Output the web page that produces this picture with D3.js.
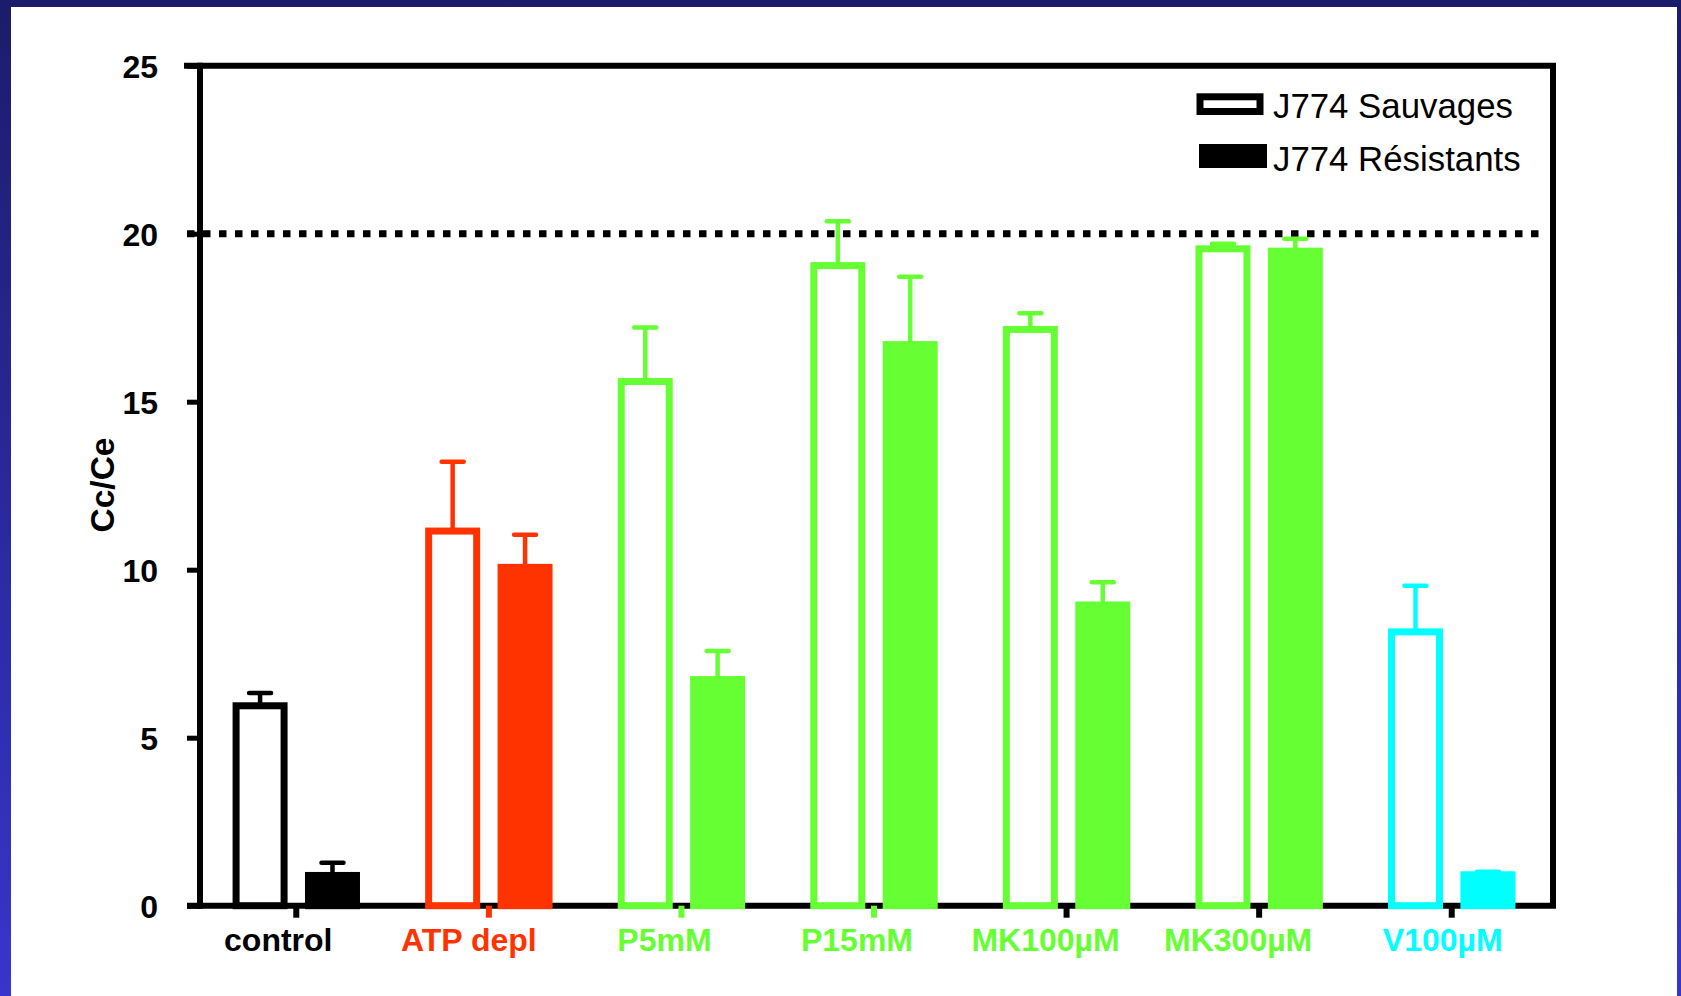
<!DOCTYPE html>
<meta charset="utf-8">
<style>
body { margin: 0; background: #ffffff; }
svg { display: block; }
text { font-family: "Liberation Sans", Arial, Helvetica, sans-serif; }
.lab { font-weight: bold; font-size: 32px; }
.leg { font-size: 34.8px; }
</style>
<body>
<script src="https://cdn.jsdelivr.net/npm/d3@7"></script>
<script>

// data
var categories = ["control", "ATP depl", "P5mM", "P15mM", "MK100µM", "MK300µM", "V100µM"];
var series = ["J774 Sauvages", "J774 Résistants"];
var sauvages = [5.95, 11.15, 15.6, 19.05, 17.15, 19.55, 8.15];
var sauvagesErr = [0.38, 2.06, 1.61, 1.32, 0.48, 0.15, 1.37];
var resistants = [0.9, 10.07, 6.73, 16.7, 8.95, 19.48, 0.92];
var resistantsErr = [0.38, 0.97, 0.85, 2.02, 0.68, 0.37, 0.09];
var yTicks = [0, 5, 10, 15, 20, 25];
var threshold = 20;

// colours per category (bars, labels) and the little tick under each group
var colors = ["#000000", "#ff3300", "#66ff33", "#66ff33", "#66ff33", "#66ff33", "#00ffff"];
var tickColors = ["#000000", "#ff3300", "#66ff33", "#66ff33", "#000000", "#000000", "#000000"];
// labels sit a bit left of the group centre in the original
var labelNudge = [-18, -20, -17, -17, -21, -21, -9];

var W = 1681, H = 996;

var svg = d3.select("body").append("svg")
    .attr("width", W)
    .attr("height", H);

// slide background: blue gradient with white panel
var grad = svg.append("defs").append("linearGradient")
    .attr("id", "bg").attr("x1", 0).attr("y1", 0).attr("x2", 0).attr("y2", 1);
grad.append("stop").attr("offset", "0%").attr("stop-color", "#1c1c6c");
grad.append("stop").attr("offset", "100%").attr("stop-color", "#3636cc");
svg.append("rect").attr("width", W).attr("height", H).attr("fill", "url(#bg)");
svg.append("rect").attr("x", 11).attr("y", 7).attr("width", W - 15).attr("height", H - 7).attr("fill", "#fff");

// scales
var x = d3.scaleBand()
    .domain(categories)
    .range([200, 1548]);
var xSub = d3.scalePoint()
    .domain(series)
    .range([-36.2, 36.2]);
var y = d3.scaleLinear()
    .domain([0, 25])
    .range([905.7, 65.7]);

var xLeft = 200, xRight = 1553;

// frame: top and right lines
svg.append("line")
    .attr("x1", 184).attr("x2", xRight + 3)
    .attr("y1", y(25)).attr("y2", y(25))
    .attr("stroke", "#000").attr("stroke-width", 6);
svg.append("line")
    .attr("x1", xRight).attr("x2", xRight)
    .attr("y1", y(25)).attr("y2", y(0))
    .attr("stroke", "#000").attr("stroke-width", 6);

// y axis
var yAxis = svg.append("g")
    .attr("transform", "translate(" + xLeft + ",0)")
    .call(d3.axisLeft(y).tickValues(yTicks).tickSize(13).tickPadding(29));
yAxis.select(".domain").attr("stroke-width", 6).attr("d", "M0," + (y(0) + 3) + "V" + (y(25) - 3));
yAxis.selectAll(".tick line").attr("stroke-width", 5);
yAxis.selectAll(".tick text")
    .attr("class", "lab")
    .attr("fill", "#000")
    .attr("dy", "0.36em");

// x axis line
svg.append("line")
    .attr("x1", 187).attr("x2", xRight + 3)
    .attr("y1", y(0)).attr("y2", y(0))
    .attr("stroke", "#000").attr("stroke-width", 6);

// small ticks under each group
svg.selectAll(".xtick")
    .data(categories)
  .enter().append("line")
    .attr("class", "xtick")
    .attr("x1", function(d) { return x(d) + x.bandwidth() / 2; })
    .attr("x2", function(d) { return x(d) + x.bandwidth() / 2; })
    .attr("y1", y(0))
    .attr("y2", y(0) + 12)
    .attr("stroke", function(d, i) { return tickColors[i]; })
    .attr("stroke-width", 6);

// dotted threshold line
svg.append("line")
    .attr("x1", 187).attr("x2", 1539)
    .attr("y1", y(threshold)).attr("y2", y(threshold))
    .attr("stroke", "#000")
    .attr("stroke-width", 7)
    .attr("stroke-dasharray", "7.5,8.5");

// bars
var rows = [];
categories.forEach(function(c, i) {
  rows.push({cat: c, s: series[0], v: sauvages[i], e: sauvagesErr[i], col: colors[i], open: true});
  rows.push({cat: c, s: series[1], v: resistants[i], e: resistantsErr[i], col: colors[i], open: false});
});
var barW = 48;
function cx(d) { return x(d.cat) + x.bandwidth() / 2 + xSub(d.s); }

// error bars (upper only)
svg.selectAll(".err")
    .data(rows)
  .enter().append("line")
    .attr("class", "err")
    .attr("x1", cx).attr("x2", cx)
    .attr("y1", function(d) { return y(d.v); })
    .attr("y2", function(d) { return y(d.v + d.e); })
    .attr("stroke", function(d) { return d.col; })
    .attr("stroke-width", 4.5);
svg.selectAll(".cap")
    .data(rows)
  .enter().append("line")
    .attr("class", "cap")
    .attr("x1", function(d) { return cx(d) - 11; })
    .attr("x2", function(d) { return cx(d) + 11; })
    .attr("y1", function(d) { return y(d.v + d.e); })
    .attr("y2", function(d) { return y(d.v + d.e); })
    .attr("stroke", function(d) { return d.col; })
    .attr("stroke-width", 4.5)
    .attr("stroke-linecap", "round");

svg.selectAll(".bar")
    .data(rows)
  .enter().append("rect")
    .attr("class", "bar")
    .attr("x", function(d) { return cx(d) - barW / 2; })
    .attr("width", barW)
    .attr("y", function(d) { return y(d.v); })
    .attr("height", function(d) { return y(0) - y(d.v); })
    .attr("fill", function(d) { return d.open ? "#fff" : d.col; })
    .attr("stroke", function(d) { return d.col; })
    .attr("stroke-width", 7);

// category labels
svg.selectAll(".xlab")
    .data(categories)
  .enter().append("text")
    .attr("class", "lab")
    .attr("x", function(d, i) { return x(d) + x.bandwidth() / 2 + labelNudge[i]; })
    .attr("y", 951)
    .attr("text-anchor", "middle")
    .attr("fill", function(d, i) { return colors[i]; })
    .text(function(d) { return d; });

// y axis title
svg.append("text")
    .attr("class", "lab")
    .attr("transform", "translate(114,485) rotate(-90)")
    .attr("text-anchor", "middle")
    .style("font-size", "33.5px")
    .text("Cc/Ce");

// legend
var leg = svg.append("g");
leg.append("rect")
    .attr("x", 1200).attr("y", 96.8)
    .attr("width", 60).attr("height", 14.7)
    .attr("fill", "#fff").attr("stroke", "#000").attr("stroke-width", 7);
leg.append("rect")
    .attr("x", 1199).attr("y", 144)
    .attr("width", 68).attr("height", 24)
    .attr("fill", "#000");
leg.selectAll(".legtxt")
    .data(series)
  .enter().append("text")
    .attr("class", "leg")
    .attr("x", 1273)
    .attr("y", function(d, i) { return 118 + i * 52.7; })
    .text(function(d) { return d; });

</script>
</body>
